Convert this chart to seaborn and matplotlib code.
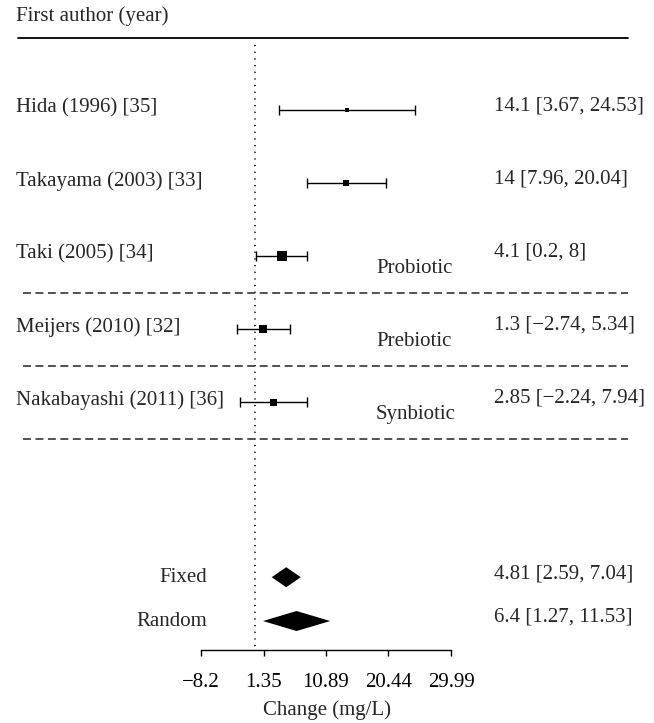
import matplotlib
matplotlib.use("Agg")
import matplotlib.pyplot as plt
import numpy as np
import pandas as pd
import seaborn as sns

# study level data (change in mg/L with 95% CI)
studies = ["Hida (1996) [35]", "Takayama (2003) [33]", "Taki (2005) [34]",
           "Meijers (2010) [32]", "Nakabayashi (2011) [36]"]
estimate = [14.1, 14.0, 4.1, 1.3, 2.85]
lower = [3.67, 7.96, 0.2, -2.74, -2.24]
upper = [24.53, 20.04, 8.0, 5.34, 7.94]
weight = [5.9, 13.2, 36.6, 26.4, 17.9]   # relative weight -> box area

# subgroups: label and last study row of each group
groups = ["Probiotic", "Prebiotic", "Synbiotic"]
group_last_row = [2, 3, 4]

# pooled estimates
pooled = ["Fixed", "Random"]
pooled_est = [4.81, 6.4]
pooled_lo = [2.59, 1.27]
pooled_hi = [7.04, 11.53]

ticks = [-8.2, 1.35, 10.89, 20.44, 29.99]
tick_labels = ["\u22128.2", "1.35", "10.89", "20.44", "29.99"]


def fmt(v):
    return "{:g}".format(v).replace("-", "\u2212")


sns.set_style("white")
plt.rcParams["font.family"] = ["Liberation Serif", "DejaVu Serif"]
FS = 15

df = pd.DataFrame({"study": studies, "est": estimate, "lo": lower,
                   "hi": upper, "w": weight})
df["y"] = np.arange(len(df))
pool_y = [6.4, 7.0]
axis_y = 7.4

fig = plt.figure(figsize=(6.54, 7.23), dpi=100)
ax = fig.add_axes([0, 0, 1, 1])

# confidence intervals
ax.errorbar(df["est"], df["y"], xerr=[df["est"] - df["lo"], df["hi"] - df["est"]],
            fmt="none", ecolor="black", elinewidth=1, capsize=3.6, capthick=1)

# point estimates, box area ~ weight
sns.scatterplot(data=df, x="est", y="y", size="w", sizes=(0, 141.5),
                size_norm=(0, 100), marker="s", color="black",
                linewidth=0, legend=False, ax=ax, zorder=3)

# pooled diamonds
h = 0.137
for lo, est, hi, y in zip(pooled_lo, pooled_est, pooled_hi, pool_y):
    ax.fill([lo, est, hi, est], [y, y - h, y, y + h], color="black", lw=0)

# line of no effect
ax.plot([0, 0], [-0.89, axis_y], color="black", lw=1.2, dashes=(0.7, 3.3))

# header
tr = ax.get_yaxis_transform()
ax.text(0.0245, -1.28, "First author (year)", transform=tr, fontsize=FS, va="center")
ax.axhline(-0.99, xmin=0.027, xmax=0.96, color="black", lw=1.3)

# study labels and summaries
for s, y, e, lo, hi in zip(df["study"], df["y"], df["est"], df["lo"], df["hi"]):
    ax.text(0.0245, y - 0.03, s, transform=tr, fontsize=FS, va="center")
    ax.text(0.755, y - 0.05, "%s [%s, %s]" % (fmt(e), fmt(lo), fmt(hi)),
            transform=tr, fontsize=FS, va="center")

# subgroup separators
for g, r in zip(groups, group_last_row):
    ax.text(0.575, r + 0.17, g, transform=tr, fontsize=FS, va="center")
    ax.axhline(r + 0.5, xmin=0.035, xmax=0.96, color="#444444", lw=1.3,
               dashes=(4.4, 2.5))

for p, y, e, lo, hi in zip(pooled, pool_y, pooled_est, pooled_lo, pooled_hi):
    ax.text(0.317, y, p, transform=tr, fontsize=FS, va="center", ha="right")
    ax.text(0.755, y - 0.05, "%s [%s, %s]" % (fmt(e), fmt(lo), fmt(hi)),
            transform=tr, fontsize=FS, va="center")

# axes
ax.set_xlim(-38.91, 61.0)
ax.set_ylim(8.397, -1.507)
for side in ["top", "left", "right"]:
    ax.spines[side].set_visible(False)
ax.spines["bottom"].set_position(("data", axis_y))
ax.spines["bottom"].set_bounds(ticks[0], ticks[-1])
ax.spines["bottom"].set_color("black")
ax.spines["bottom"].set_linewidth(1)
ax.set_xticks(ticks, tick_labels)
ax.set_yticks([])
ax.tick_params(axis="x", direction="out", length=4.3, width=1, pad=12,
               labelsize=FS, colors="black", bottom=True)
ax.set_xlabel("Change (mg/L)", fontsize=FS, labelpad=6)
ax.set_ylabel("")

fig.savefig("out.png", dpi=100)
